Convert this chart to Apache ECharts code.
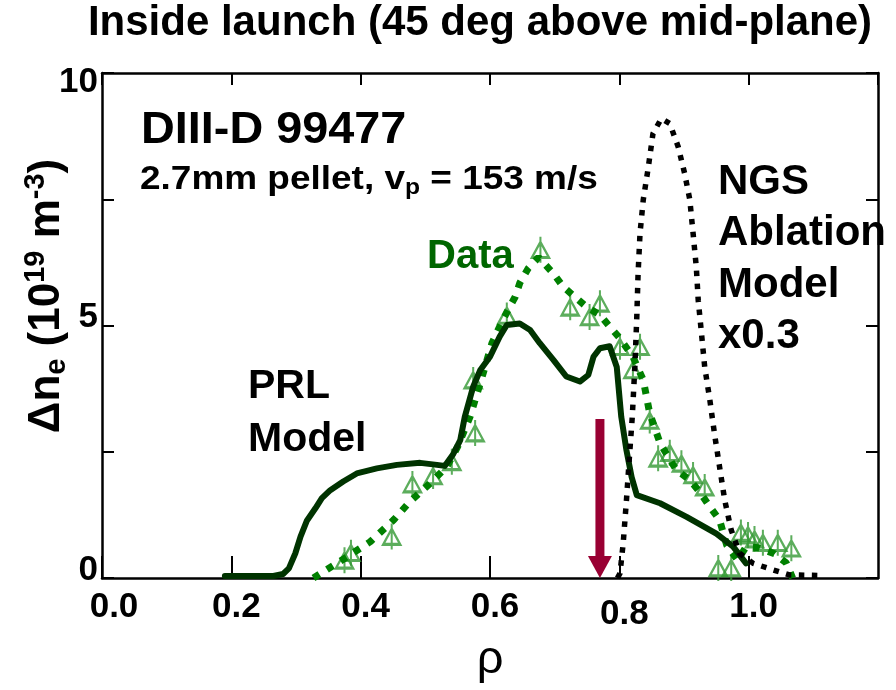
<!DOCTYPE html>
<html><head><meta charset="utf-8">
<script src="https://cdn.jsdelivr.net/npm/echarts/dist/echarts.min.js"></script>
<style>html,body{margin:0;padding:0;background:#fff}#c{width:896px;height:690px}</style>
</head><body><div id="c"></div>
<script>
// ---- data ----
const xTickValues = [0.0, 0.2, 0.4, 0.6, 0.8, 1.0];
const yTickValues = [0, 5, 10];

// PRL Model (solid dark green)
const prlModel = [[0.19,0.04],[0.265,0.04],[0.28,0.08],[0.289,0.19],[0.299,0.49],[0.307,0.82],[0.317,1.14],[0.33,1.38],[0.34,1.58],[0.353,1.74],[0.373,1.91],[0.394,2.07],[0.425,2.17],[0.456,2.24],[0.492,2.28],[0.518,2.24],[0.53,2.22],[0.543,2.45],[0.554,2.73],[0.561,3.19],[0.574,3.79],[0.585,4.12],[0.6,4.38],[0.615,4.78],[0.626,5.01],[0.646,5.04],[0.662,4.91],[0.677,4.65],[0.698,4.32],[0.718,3.99],[0.739,3.89],[0.752,4.02],[0.76,4.38],[0.77,4.55],[0.785,4.59],[0.796,4.18],[0.803,3.19],[0.811,2.53],[0.819,2.0],[0.827,1.64],[0.863,1.48],[0.904,1.21],[0.95,0.88],[0.976,0.62],[0.996,0.29]];

// Data fit (green dotted)
const dataFit = [[0.327,0.0],[0.343,0.13],[0.379,0.42],[0.415,0.72],[0.451,1.15],[0.476,1.51],[0.507,1.87],[0.533,2.2],[0.55,2.6],[0.569,3.19],[0.585,3.86],[0.603,4.65],[0.615,4.98],[0.628,5.31],[0.639,5.57],[0.646,5.84],[0.659,6.13],[0.675,6.35],[0.698,6.03],[0.713,5.77],[0.731,5.57],[0.749,5.37],[0.77,5.21],[0.785,4.98],[0.8,4.76],[0.821,4.38],[0.837,3.92],[0.847,3.26],[0.863,2.67],[0.888,2.14],[0.909,1.94],[0.924,1.71],[0.94,1.41],[0.955,1.15],[0.966,0.65],[0.983,0.35],[0.996,0.62],[1.015,0.6],[1.04,0.48],[1.058,0.3],[1.068,0.0]];

// Measured data (open triangles)
const dataPoints = [[0.375,0.35],[0.385,0.5],[0.448,0.82],[0.48,1.86],[0.512,2.02],[0.541,2.3],[0.577,2.87],[0.574,3.92],[0.626,5.2],[0.678,6.5],[0.724,5.36],[0.754,5.17],[0.77,5.44],[0.801,4.58],[0.832,4.58],[0.821,4.12],[0.847,3.12],[0.86,2.37],[0.878,2.48],[0.896,2.27],[0.914,2.04],[0.932,1.8],[0.953,0.2],[0.973,0.2],[0.988,0.9],[0.999,0.85],[1.009,0.77],[1.022,0.7],[1.045,0.7],[1.066,0.59]];

// NGS Ablation Model x0.3 (black dotted)
const ngsModel = [[0.797,0.0],[0.801,0.09],[0.806,0.69],[0.811,1.54],[0.816,2.47],[0.82,3.19],[0.824,4.18],[0.827,5.17],[0.829,6.03],[0.832,6.83],[0.837,7.49],[0.845,8.15],[0.852,8.8],[0.865,9.1],[0.878,9.0],[0.891,8.54],[0.901,8.01],[0.909,7.49],[0.914,6.83],[0.919,6.16],[0.922,5.5],[0.927,4.85],[0.932,4.18],[0.94,3.52],[0.947,2.87],[0.955,2.2],[0.963,1.54],[0.973,0.95],[0.986,0.49],[1.007,0.29],[1.038,0.16],[1.063,0.06],[1.115,0.05]];

// Pellet arrow: [x, yTop, yTip]
const pelletArrow = [[0.77, 3.15, 0]];

// ---- chart ----
const FONT = "'Liberation Sans', Arial, sans-serif";
const NARROW = "'Liberation Sans Narrow', 'Arial Narrow', 'Liberation Sans', sans-serif";
const chart = echarts.init(document.getElementById('c'), null, {renderer: 'canvas'});
const triPath = 'path://M8,5 L16,20 L0,20 Z M8,0 L8,25';

const tickFont = {color: '#000', fontSize: 35, fontWeight: 'bold', fontFamily: NARROW};
const axisLine = {show: true, onZero: false, lineStyle: {color: '#000', width: 2.5}};
const option = {
  animation: false,
  backgroundColor: '#fff',
  grid: {left: 102, right: 18, top: 73, bottom: 112, containLabel: false, outerBoundsMode: 'none'},
  xAxis: [{
    type: 'value', min: 0, max: 1.2, interval: 0.2, position: 'bottom',
    axisLine: axisLine,
    axisTick: {show: true, inside: true, length: 22, lineStyle: {color: '#000', width: 2}},
    splitLine: {show: false},
    axisLabel: {
      show: true, margin: 12, showMaxLabel: false,
      formatter: function (v) {
        if (!xTickValues.some(t => Math.abs(t - v) < 1e-6)) return '';
        const s = v.toFixed(1);
        if (Math.abs(v) < 1e-6) return '{z|' + s + '}';
        if (Math.abs(v - 0.8) < 1e-6) return '{d|' + s + '}';
        return '{n|' + s + '}';
      },
      rich: {
        n: Object.assign({padding: [0, 0, 0, 10]}, tickFont),
        z: Object.assign({padding: [0, 0, 0, 24]}, tickFont),
        d: Object.assign({padding: [7, 0, 0, 10]}, tickFont)
      }
    },
    name: 'ρ', nameLocation: 'middle', nameGap: 58,
    nameTextStyle: {fontSize: 47, color: '#000', fontFamily: FONT}
  }, {
    type: 'value', min: 0, max: 1.2, interval: 0.2, position: 'top',
    axisLine: axisLine,
    axisTick: {show: true, inside: true, length: 12, lineStyle: {color: '#000', width: 2}},
    splitLine: {show: false}, axisLabel: {show: false}
  }],
  yAxis: [{
    type: 'value', min: 0, max: 10, interval: 2.5, position: 'left',
    axisLine: axisLine,
    axisTick: {show: true, inside: true, length: 12, lineStyle: {color: '#000', width: 2}},
    splitLine: {show: false},
    axisLabel: {
      show: true, margin: 4,
      formatter: function (v) {
        if (yTickValues.indexOf(v) < 0) return '';
        return (v === 10 ? '{t|' : '{n|') + v + '}';
      },
      rich: {
        t: Object.assign({padding: [19, 0, 0, 0]}, tickFont),
        n: Object.assign({padding: [0, 0, 16, 0]}, tickFont)
      }
    }
  }, {
    type: 'value', min: 0, max: 10, interval: 2.5, position: 'right',
    axisLine: axisLine,
    axisTick: {show: true, inside: true, length: 12, lineStyle: {color: '#000', width: 2}},
    splitLine: {show: false}, axisLabel: {show: false}
  }],
  series: [
    {
      name: 'Data points', type: 'scatter', data: dataPoints, z: 2,
      symbol: triPath, symbolSize: [17, 26],
      itemStyle: {color: 'rgba(0,0,0,0)', borderColor: '#339933', borderWidth: 2.5}
    },
    {
      name: 'Data', type: 'line', data: dataFit, z: 3, showSymbol: false, symbol: 'none',
      lineStyle: {color: '#008000', width: 7, type: [7, 9], cap: 'butt'}
    },
    {
      name: 'PRL Model', type: 'line', data: prlModel, z: 4, showSymbol: false, symbol: 'none',
      lineStyle: {color: '#003300', width: 6, cap: 'round', join: 'round'}
    },
    {
      name: 'NGS', type: 'line', data: ngsModel, z: 5, showSymbol: false, symbol: 'none',
      lineStyle: {color: '#000', width: 5.5, type: [5.5, 7.5], cap: 'butt'}
    },
    {
      name: 'Pellet', type: 'custom', data: pelletArrow, z: 6,
      encode: {x: 0, y: [1, 2]},
      renderItem: function (params, api) {
        const top = api.coord([api.value(0), api.value(1)]);
        const tip = api.coord([api.value(0), api.value(2)]);
        const headH = 22, headW = 24, shaftW = 9;
        return {
          type: 'group',
          children: [
            {type: 'rect', shape: {x: top[0] - shaftW / 2, y: top[1], width: shaftW, height: tip[1] - headH - top[1] + 1},
             style: {fill: '#990033'}},
            {type: 'polygon', shape: {points: [[tip[0] - headW / 2, tip[1] - headH], [tip[0] + headW / 2, tip[1] - headH], [tip[0], tip[1]]]},
             style: {fill: '#990033'}}
          ]
        };
      }
    }
  ],
  graphic: [
    {type: 'text', x: 480, y: 23, style: {text: 'Inside launch (45 deg above mid-plane)', fontSize: 42, fontWeight: 'bold', fontFamily: FONT, fill: '#000', align: 'center', verticalAlign: 'middle'}},
    {type: 'text', x: 141, y: 131, scaleX: 1.04, style: {text: 'DIII-D 99477', fontSize: 45, fontWeight: 'bold', fontFamily: FONT, fill: '#000', align: 'left', verticalAlign: 'middle'}},
    {type: 'text', x: 140, y: 180, scaleX: 1.12, style: {
      text: '{m|2.7mm pellet, v}{sub|p}{m| = 153 m/s}', align: 'left', verticalAlign: 'middle',
      rich: {
        m: {fontSize: 33, fontWeight: 'bold', fontFamily: FONT, fill: '#000', color: '#000'},
        sub: {fontSize: 22, fontWeight: 'bold', fontFamily: FONT, fill: '#000', color: '#000', padding: [16, 0, 0, 0]}
      }}},
    {type: 'text', x: 427, y: 257, style: {text: 'Data', fontSize: 40, fontWeight: 'bold', fontFamily: FONT, fill: '#006600', align: 'left', verticalAlign: 'middle'}},
    {type: 'text', x: 248, y: 387, style: {text: 'PRL', fontSize: 41, fontWeight: 'bold', fontFamily: FONT, fill: '#000', align: 'left', verticalAlign: 'middle'}},
    {type: 'text', x: 248, y: 440, style: {text: 'Model', fontSize: 41, fontWeight: 'bold', fontFamily: FONT, fill: '#000', align: 'left', verticalAlign: 'middle'}},
    {type: 'text', x: 718, y: 182, style: {text: 'NGS', fontSize: 42, fontWeight: 'bold', fontFamily: FONT, fill: '#000', align: 'left', verticalAlign: 'middle'}},
    {type: 'text', x: 718, y: 233, style: {text: 'Ablation', fontSize: 42, fontWeight: 'bold', fontFamily: FONT, fill: '#000', align: 'left', verticalAlign: 'middle'}},
    {type: 'text', x: 718, y: 285, style: {text: 'Model', fontSize: 42, fontWeight: 'bold', fontFamily: FONT, fill: '#000', align: 'left', verticalAlign: 'middle'}},
    {type: 'text', x: 718, y: 336, style: {text: 'x0.3', fontSize: 42, fontWeight: 'bold', fontFamily: FONT, fill: '#000', align: 'left', verticalAlign: 'middle'}},
    {type: 'text', x: 47, y: 296, rotation: Math.PI / 2, style: {
      text: '{m|Δn}{sub|e}{m| (10}{sup|19}{m| m}{sup|-3}{m|)}', align: 'center', verticalAlign: 'middle',
      rich: {
        m: {fontSize: 44, fontWeight: 'bold', fontFamily: FONT, fill: '#000', color: '#000'},
        sub: {fontSize: 29, fontWeight: 'bold', fontFamily: FONT, fill: '#000', color: '#000', padding: [20, 0, 0, 0]},
        sup: {fontSize: 29, fontWeight: 'bold', fontFamily: FONT, fill: '#000', color: '#000', padding: [0, 0, 22, 0]}
      }}}
  ]
};
chart.setOption(option);
</script>
</body></html>
